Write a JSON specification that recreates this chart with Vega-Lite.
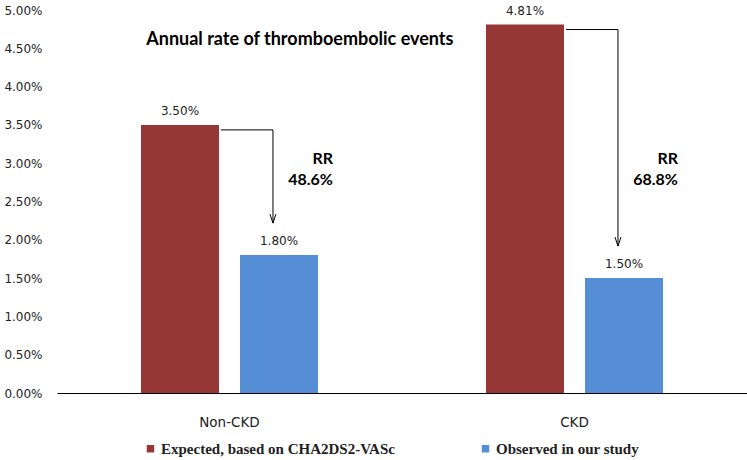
{
  "$schema": "https://vega.github.io/schema/vega-lite/v6.json",
  "width": 690,
  "height": 383,
  "autosize": {"type": "none"},
  "padding": {"left": 57, "top": 10, "right": 0, "bottom": 67},
  "background": "white",
  "config": {
    "view": {"stroke": null},
    "axis": {"labelFont": "DejaVu Sans", "labelColor": "#222", "grid": false, "ticks": false, "title": null},
    "axisY": {"labelOverlap": false, "labelFontSize": 12, "labelPadding": 15, "domain": false, "tickCount": 11}
  },
  "datasets": {
    "rates": [
      {"group": "Non-CKD", "series": "Expected, based on CHA2DS2-VASc", "rate": 0.035},
      {"group": "Non-CKD", "series": "Observed in our study", "rate": 0.018},
      {"group": "CKD", "series": "Expected, based on CHA2DS2-VASc", "rate": 0.0481},
      {"group": "CKD", "series": "Observed in our study", "rate": 0.015}
    ],
    "arrows": [
      {"group": "Non-CKD", "expected": 0.035, "observed": 0.018, "rr": "RR\n48.6%"},
      {"group": "CKD", "expected": 0.0481, "observed": 0.015, "rr": "RR\n68.8%"}
    ],
    "heading": [{"title": "Annual rate of thromboembolic events"}]
  },
  "layer": [
    {
      "data": {"name": "rates"},
      "mark": {"type": "bar"},
      "encoding": {
        "x": {"field": "group", "type": "nominal", "sort": ["Non-CKD", "CKD"],
              "scale": {"type": "band", "paddingInner": 0, "paddingOuter": 0},
              "axis": {"labelAngle": 0, "labelFontSize": 13.5, "labelPadding": 22, "domain": true, "domainColor": "#000", "domainWidth": 1}},
        "xOffset": {"field": "series", "type": "nominal", "scale": {"paddingInner": 0.212, "paddingOuter": 0.848}},
        "y": {"field": "rate", "type": "quantitative",
              "scale": {"domain": [0, 0.05], "nice": false},
              "axis": {"values": [0, 0.005, 0.01, 0.015, 0.02, 0.025, 0.03, 0.035, 0.04, 0.045, 0.05], "tickCount": 11, "format": ".2%", "domain": false, "labelFontSize": 12, "labelPadding": 15, "labelOverlap": false, "labelBound": false}},
        "color": {"field": "series", "type": "nominal",
                  "scale": {"domain": ["Expected, based on CHA2DS2-VASc", "Observed in our study"], "range": ["#953735", "#558ED5"]},
                  "legend": {"title": null, "orient": "none", "legendX": 86, "legendY": 431, "direction": "horizontal", "columns": 2, "columnPadding": 83, "padding": 0,
                             "symbolType": "square", "symbolSize": 56, "symbolStrokeWidth": 0, "labelFont": "Liberation Serif", "labelFontSize": 15, "labelFontWeight": "bold", "labelColor": "#222", "labelLimit": 400, "labelOffset": 3}}
      }
    },
    {
      "data": {"name": "rates"},
      "mark": {"type": "text", "font": "DejaVu Sans", "fontSize": 12, "color": "#222", "baseline": "middle", "dy": -14},
      "encoding": {
        "x": {"field": "group", "type": "nominal", "sort": ["Non-CKD", "CKD"]},
        "xOffset": {"field": "series", "type": "nominal"},
        "y": {"field": "rate", "type": "quantitative"},
        "text": {"field": "rate", "type": "quantitative", "format": ".2%"}
      }
    },
    {
      "data": {"name": "arrows"},
      "mark": {"type": "rule", "color": "#000", "strokeWidth": 1, "yOffset": 5},
      "encoding": {
        "x": {"field": "group", "type": "nominal", "sort": ["Non-CKD", "CKD"], "bandPosition": 0.475},
        "x2": {"field": "group", "bandPosition": 0.626},
        "y": {"field": "expected", "type": "quantitative"}
      }
    },
    {
      "data": {"name": "arrows"},
      "mark": {"type": "rule", "color": "#000", "strokeWidth": 1, "yOffset": 5, "y2Offset": -32},
      "encoding": {
        "x": {"field": "group", "type": "nominal", "sort": ["Non-CKD", "CKD"], "bandPosition": 0.626},
        "y": {"field": "expected", "type": "quantitative"},
        "y2": {"field": "observed"}
      }
    },
    {
      "data": {"name": "arrows"},
      "mark": {"type": "point", "shape": "M-1,-3L0,0L1,-3", "filled": false, "stroke": "#000", "strokeWidth": 1, "size": 36, "yOffset": -32, "opacity": 1},
      "encoding": {
        "x": {"field": "group", "type": "nominal", "sort": ["Non-CKD", "CKD"], "bandPosition": 0.626},
        "y": {"field": "observed", "type": "quantitative"}
      }
    },
    {
      "data": {"name": "arrows"},
      "mark": {"type": "text", "font": "Lato", "fontSize": 16, "fontWeight": "bold", "color": "#000", "align": "right", "baseline": "middle", "lineBreak": "\n", "lineHeight": 21},
      "encoding": {
        "x": {"field": "group", "type": "nominal", "sort": ["Non-CKD", "CKD"], "bandPosition": 0.80},
        "y": {"datum": 0.0305, "type": "quantitative"},
        "text": {"field": "rr", "type": "nominal"}
      }
    },
    {
      "data": {"name": "heading"},
      "mark": {"type": "text", "font": "Lato", "fontSize": 18, "fontWeight": "bold", "color": "#000", "align": "center", "baseline": "middle"},
      "encoding": {
        "x": {"datum": "Non-CKD", "type": "nominal", "bandPosition": 0.704},
        "y": {"datum": 0.0461, "type": "quantitative"},
        "text": {"field": "title", "type": "nominal"}
      }
    }
  ]
}
